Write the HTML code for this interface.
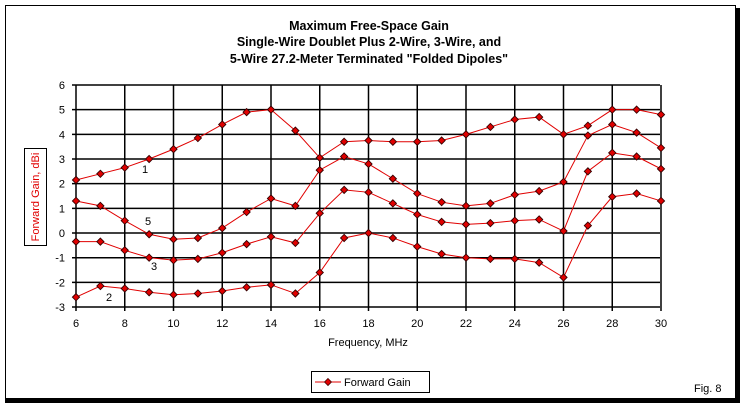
<!DOCTYPE html>
<html><head><meta charset="utf-8"><style>
html,body{margin:0;padding:0;background:#fff}
svg{display:block;font-family:"Liberation Sans",Arial,sans-serif}
</style></head><body>
<svg id="s" width="744" height="407" viewBox="0 0 744 407" xmlns="http://www.w3.org/2000/svg">
<rect x="0" y="0" width="744" height="407" fill="#fff"/>
<path d="M5.5,90 V5.5 H735.5 V8" fill="none" stroke="#000" stroke-width="1"/>
<line x1="5.5" y1="5" x2="5.5" y2="400" stroke="#000"/>
<rect x="735" y="8" width="5" height="395" fill="#000"/>
<rect x="5" y="398" width="735" height="5" fill="#000"/>
<g font-weight="bold" font-size="12.5" text-anchor="middle" fill="#000">
<text x="369" y="30">Maximum Free-Space Gain</text>
<text x="369" y="46">Single-Wire Doublet Plus 2-Wire, 3-Wire, and</text>
<text x="369" y="63">5-Wire 27.2-Meter Terminated "Folded Dipoles"</text>
</g>
<g id="grid" stroke="#000" stroke-width="1.5"></g>
<g id="lab" font-size="11" fill="#000"></g>
<text x="368" y="346" font-size="11" text-anchor="middle">Frequency, MHz</text>
<rect x="24.5" y="148.5" width="22" height="97" fill="#fff" stroke="#000"/>
<text transform="translate(39,197) rotate(-90)" font-size="11" fill="#e00000" text-anchor="middle">Forward Gain, dBi</text>
<g id="ser"></g>
<g font-size="11" fill="#000">
<text x="142" y="173">1</text>
<text x="145" y="225">5</text>
<text x="151" y="270">3</text>
<text x="106" y="301">2</text>
</g>
<rect x="311.5" y="371.5" width="118" height="21" fill="#fff" stroke="#000"/>
<line x1="315" y1="382" x2="341" y2="382" stroke="#e00000"/>
<path d="M328,378.5 L331.5,382 L328,385.5 L324.5,382 Z" fill="#e00000" stroke="#400" stroke-width="0.8"/>
<text x="344" y="386" font-size="11">Forward Gain</text>
<text x="694" y="392" font-size="11">Fig. 8</text>
</svg>
<script>
var NS="http://www.w3.org/2000/svg";
function px(x){return 76+(x-6)*24.375}
function py(v){return 85+(6-v)*24.67}
function el(n,a,p){var e=document.createElementNS(NS,n);for(var k in a)e.setAttribute(k,a[k]);if(p)p.appendChild(e);return e}
var g=document.getElementById('grid'),lab=document.getElementById('lab');
for(var v=-3;v<=6;v++){var y=py(v);el('line',{x1:72,y1:y,x2:660,y2:y},g);var t=el('text',{x:65,y:y+4,'text-anchor':'end'},lab);t.textContent=v;}
for(var x=6;x<=30;x+=2){var X=px(x);el('line',{x1:X,y1:85,x2:X,y2:311},g);var t=el('text',{x:X,y:327,'text-anchor':'middle'},lab);t.textContent=x;}
var S=[
[2.15,2.4,2.65,3.0,3.4,3.85,4.4,4.9,5.0,4.15,3.05,3.7,3.75,3.7,3.7,3.75,4.0,4.3,4.6,4.7,4.0,4.35,5.0,5.0,4.8],
[1.3,1.1,0.5,-0.05,-0.25,-0.2,0.2,0.85,1.4,1.1,2.55,3.1,2.8,2.2,1.6,1.25,1.1,1.2,1.55,1.7,2.07,3.95,4.4,4.07,3.45],
[-0.35,-0.35,-0.7,-1.0,-1.1,-1.05,-0.8,-0.45,-0.15,-0.4,0.8,1.75,1.65,1.2,0.75,0.45,0.35,0.4,0.5,0.55,0.08,2.5,3.25,3.1,2.6],
[-2.6,-2.15,-2.25,-2.4,-2.5,-2.45,-2.35,-2.2,-2.1,-2.45,-1.6,-0.2,0.0,-0.2,-0.55,-0.85,-1.0,-1.05,-1.05,-1.2,-1.8,0.3,1.47,1.6,1.3]];
var sg=document.getElementById('ser');
S.forEach(function(d){
 var P=d.map(function(v,i){return [px(6+i),py(v)]});
 el('polyline',{points:P.map(function(p){return p[0]+","+p[1]}).join(" "),fill:'none',stroke:'#e00000','stroke-width':1},sg);
 P.forEach(function(p){var x=p[0],y=p[1];el('path',{d:"M"+x+","+(y-3.6)+" L"+(x+3.6)+","+y+" L"+x+","+(y+3.6)+" L"+(x-3.6)+","+y+" Z",fill:'#e00000',stroke:'#300','stroke-width':0.9},sg)});
});
</script>
</body></html>
